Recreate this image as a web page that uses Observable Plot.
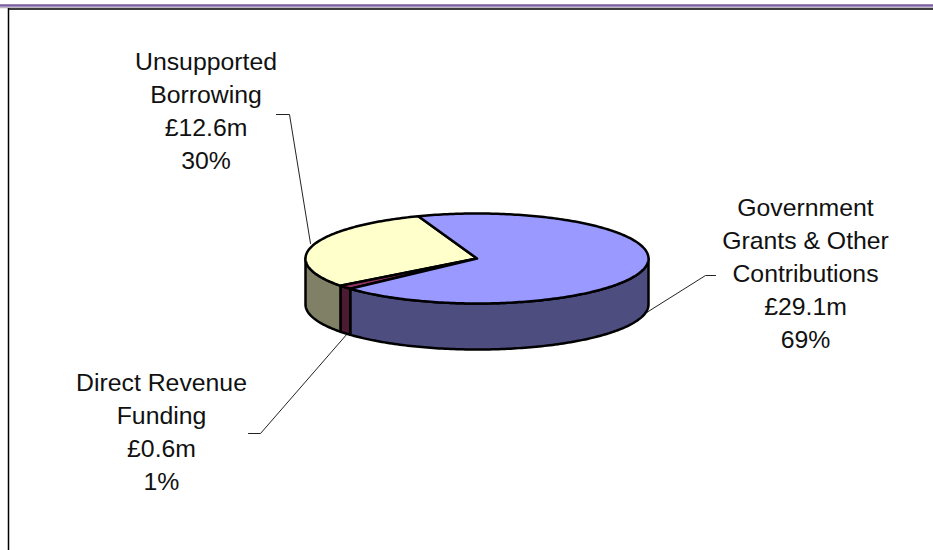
<!DOCTYPE html>
<html>
<head>
<meta charset="utf-8">
<script src="https://cdn.jsdelivr.net/npm/d3@7"></script>
<script src="https://cdn.jsdelivr.net/npm/@observablehq/plot@0.6"></script>
<style>html,body{margin:0;padding:0;background:#fff;overflow:hidden}svg{display:block}</style>
</head>
<body>
<div id="chart"></div>
<script>
const names = ["Government Grants & Other Contributions", "Direct Revenue Funding", "Unsupported Borrowing"];
const amounts = [29.1, 0.6, 12.6];
const percents = [69, 1, 30];
const labelLines = [
  "Government\nGrants & Other\nContributions",
  "Direct Revenue\nFunding",
  "Unsupported\nBorrowing"
];
const topColors = ["#9999ff", "#993366", "#ffffcc"];
const sideColors = ["#4d4d80", "#4d1a33", "#808066"];

// layout of the tilted pie, in the frame's units
const cx = 476.5, cy = 258, rx = 171.5, ry = 45, depth = 46, startDeg = -20;
const labelAt = [[805, 271], [161, 429.5], [205.5, 108.5]];
const leaders = [
  [[715, 275], [705, 275], [643, 314]],
  [[248, 433], [260, 433], [347, 333]],
  [[276, 114], [289, 114], [310, 243]]
];

const total = d3.sum(amounts);
const rad = d => d * Math.PI / 180;
const rim = (deg, dy = 0) => [cx + rx * Math.sin(rad(deg)), cy - ry * Math.cos(rad(deg)) + dy];
const arc = (a, b, dy = 0) => {
  const out = [], n = Math.max(2, Math.ceil(Math.abs(b - a)));
  for (let i = 0; i <= n; ++i) out.push(rim(a + (b - a) * i / n, dy));
  return out;
};

let angle = startDeg;
const slices = amounts.map((v, i) => {
  const a = angle, b = angle + v / total * 360;
  angle = b;
  return {a, b, i};
});

const topFace = s => {
  const pts = [[cx, cy], ...arc(s.a, s.b)];
  pts.push(pts[0]);
  return pts;
};
const sideFace = s => {
  const a = Math.max(s.a, 90), b = Math.min(s.b, 270);
  if (b <= a) return null;
  const pts = [...arc(a, b), ...arc(b, a, depth)];
  pts.push(pts[0]);
  return pts;
};

const xy = {x: d => d[0], y: d => d[1]};
const faceMarks = [];
for (const s of slices) {
  const side = sideFace(s);
  if (side) faceMarks.push(Plot.line(side, {...xy, fill: sideColors[s.i], stroke: "#000", strokeWidth: 2.5}));
}
for (const s of [slices[2], slices[1], slices[0]]) {
  faceMarks.push(Plot.line(topFace(s), {...xy, fill: topColors[s.i], stroke: "#000", strokeWidth: 2.5}));
}

const labels = names.map((n, i) => ({
  text: `${labelLines[i]}\n£${amounts[i].toFixed(1)}m\n${percents[i]}%`,
  x: labelAt[i][0],
  y: labelAt[i][1]
}));

const plot = Plot.plot({
  width: 933,
  height: 550,
  margin: 0,
  x: {domain: [0, 933], range: [0, 933], axis: null},
  y: {domain: [0, 550], range: [0, 550], axis: null},
  style: {background: "#fff"},
  marks: [
    Plot.ruleY([5], {stroke: "#7a5ca0", strokeWidth: 2.5}),
    Plot.ruleY([7], {stroke: "#c0b8c8", strokeWidth: 1.5}),
    Plot.ruleY([8.5], {stroke: "#000", strokeWidth: 1.5, x1: 8, x2: 933}),
    Plot.ruleX([8], {stroke: "#000", strokeWidth: 1.5, y1: 8, y2: 550}),
    ...leaders.map(l => Plot.line(l, {...xy, stroke: "#222", strokeWidth: 1})),
    ...faceMarks,
    Plot.text(labels, {
      x: "x", y: "y", text: "text",
      fontFamily: "Liberation Sans, Arial, sans-serif",
      fontSize: 24.8, lineHeight: 33 / 24.8, fill: "#111",
      textAnchor: "middle", lineAnchor: "middle"
    })
  ]
});
document.getElementById("chart").append(plot);
</script>
</body>
</html>
